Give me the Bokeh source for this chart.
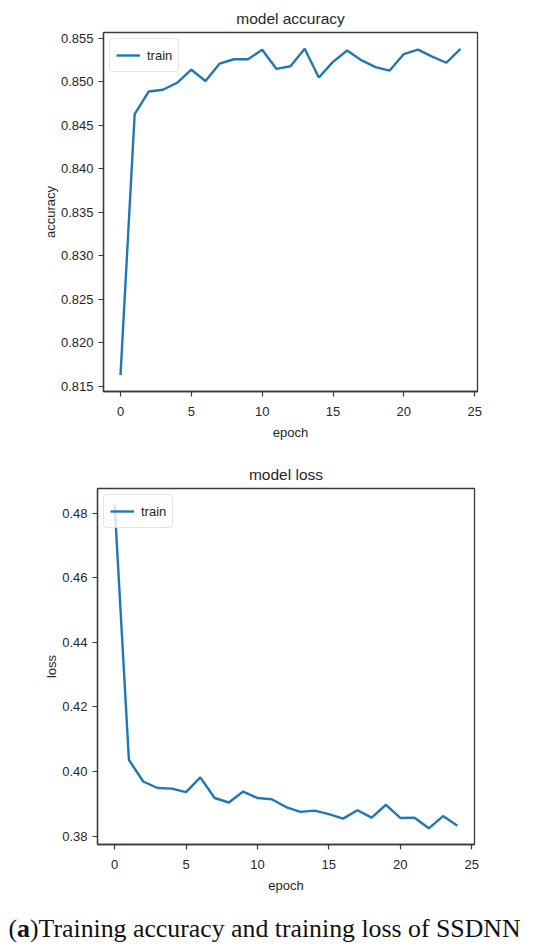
from bokeh.plotting import figure
from bokeh.models import Range1d, FixedTicker, NumeralTickFormatter, Label, Legend, LegendItem, Title
from bokeh.layouts import column
from bokeh.embed import file_html
from bokeh.resources import INLINE

# ---- data ----
epochs = list(range(25))
accuracy = [0.8163, 0.8463, 0.8489, 0.8491, 0.8499, 0.8514, 0.8501, 0.8521, 0.8526, 0.8526,
            0.8537, 0.8515, 0.8518, 0.8538, 0.8505, 0.8523, 0.8536, 0.8525, 0.8517, 0.8513,
            0.8532, 0.8537, 0.8529, 0.8522, 0.8538]
loss = [0.4827, 0.4036, 0.3969, 0.3949, 0.3947, 0.3936, 0.3982, 0.3918, 0.3904, 0.3938,
        0.3918, 0.3914, 0.3890, 0.3875, 0.3879, 0.3868, 0.3854, 0.3880, 0.3857, 0.3897,
        0.3856, 0.3857, 0.3824, 0.3862, 0.3832]
x_ticks = [0, 5, 10, 15, 20, 25]
acc_ticks = [0.815, 0.820, 0.825, 0.830, 0.835, 0.840, 0.845, 0.850, 0.855]
loss_ticks = [0.38, 0.40, 0.42, 0.44, 0.46, 0.48]
series_label = "train"
caption_parts = ["(", "a", ")Training accuracy and training loss of SSDNN"]

FONT = "Liberation Sans"
LINE = "#1f77b4"
SPINE = "#3a3a3a"
TXT = "#262626"


def padded(vals, frac=0.05):
    lo, hi = min(vals), max(vals)
    d = (hi - lo) * frac
    return Range1d(lo - d, hi + d)


def make_fig(height, bl, br, bt, bb, ys, yticks, yfmt, title, ylabel, ylab_standoff):
    p = figure(width=550, height=height, x_range=padded(epochs), y_range=padded(ys),
               output_backend="svg", toolbar_location=None, frame_align=False,
               min_border_left=bl, min_border_right=br, min_border_top=bt, min_border_bottom=bb)
    p.title = Title(text=title, align="center", text_font=FONT, text_font_size="15.5px",
                    text_font_style="normal", text_color=TXT, standoff=11)
    p.background_fill_color = "white"
    p.border_fill_color = "white"
    p.outline_line_color = SPINE
    p.outline_line_width = 1.3
    p.xgrid.visible = False
    p.ygrid.visible = False
    r = p.line(epochs, ys, line_color=LINE, line_width=2.4)
    for ax in (p.xaxis[0], p.yaxis[0]):
        ax.axis_line_color = SPINE
        ax.axis_line_width = 1.3
        ax.major_tick_line_color = SPINE
        ax.major_tick_line_width = 1.2
        ax.major_tick_out = 5
        ax.major_tick_in = 0
        ax.minor_tick_line_color = None
        ax.major_label_text_font = FONT
        ax.major_label_text_font_size = "13px"
        ax.major_label_text_color = TXT
        ax.axis_label_text_font = FONT
        ax.axis_label_text_font_size = "13px"
        ax.axis_label_text_font_style = "normal"
        ax.axis_label_text_color = TXT
    p.xaxis.ticker = FixedTicker(ticks=x_ticks)
    p.xaxis.axis_label = "epoch"
    p.xaxis.major_label_standoff = 10
    p.xaxis.axis_label_standoff = 6
    p.yaxis.ticker = FixedTicker(ticks=yticks)
    p.yaxis.formatter = NumeralTickFormatter(format=yfmt)
    p.yaxis.axis_label = ylabel
    p.yaxis.major_label_standoff = 5
    p.yaxis.axis_label_standoff = ylab_standoff
    legend = Legend(items=[LegendItem(label=series_label, renderers=[r])], location="top_left",
                    margin=6, padding=6, spacing=0, glyph_width=24, glyph_height=20,
                    label_standoff=7, label_height=20, label_text_font=FONT,
                    label_text_font_size="13px", label_text_color=TXT,
                    border_line_color="#cccccc", border_line_width=1, border_radius=4,
                    background_fill_alpha=0.8)
    p.add_layout(legend)
    return p


p1 = make_fig(446, 103, 73, 32, 55, accuracy, acc_ticks, "0.000", "model accuracy", "accuracy", 0)
p2 = make_fig(459, 97, 76, 42, 61, loss, loss_ticks, "0.00", "model loss", "loss", 0)

# caption strip (rich text made of three labels)
CAP_H = 44
p3 = figure(width=550, height=CAP_H, x_range=Range1d(0, 550), y_range=Range1d(0, CAP_H),
            output_backend="svg", toolbar_location=None, min_border=0, frame_align=False,
            x_axis_location=None, y_axis_location=None)
p3.outline_line_color = None
p3.xgrid.visible = False
p3.ygrid.visible = False
p3.background_fill_color = "white"
p3.border_fill_color = "white"

CAP_SIZE = 25.8
cap_font = "Liberation Serif"
widths = [0.333, 0.5]
x0 = 8
offs = [x0, x0 + widths[0] * CAP_SIZE, x0 + (widths[0] + widths[1]) * CAP_SIZE]
styles = ["normal", "bold", "normal"]
for txt, xo, st in zip(caption_parts, offs, styles):
    p3.add_layout(Label(x=xo, y=21, x_units="screen", y_units="screen", text=txt,
                        text_font=cap_font, text_font_size=f"{CAP_SIZE}px", text_font_style=st,
                        text_color="#111111", text_baseline="alphabetic", text_align="left"))

layout = column(p1, p2, p3, spacing=0)
open("out.html", "w").write(file_html(layout, INLINE))
